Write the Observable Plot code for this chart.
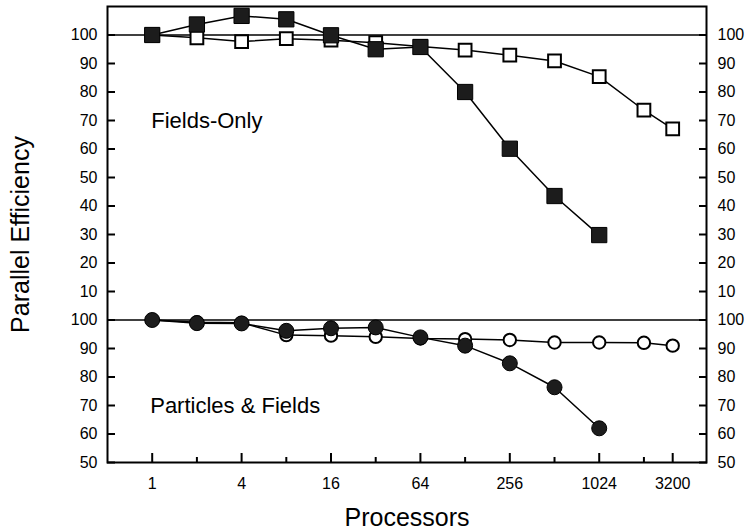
<!DOCTYPE html>
<html>
<head>
<meta charset="utf-8">
<script src="https://cdn.jsdelivr.net/npm/d3@7"></script>
<script src="https://cdn.jsdelivr.net/npm/@observablehq/plot@0.6"></script>
<style>
  body { margin: 0; background: #fff; }
</style>
</head>
<body>
<div id="chart"></div>
<script>
// ---- data ----
const procs = [1, 2, 4, 8, 16, 32, 64, 128, 256, 512, 1024, 2048, 3200];

// Fields-Only panel
const fieldsFilled = [100, 103.7, 106.7, 105.5, 99.9, 95.0, 95.8, 80.0, 60.1, 43.5, 29.8];
const fieldsOpen   = [100, 99.0, 97.7, 98.7, 98.2, 97.3, 96.0, 94.7, 92.9, 90.9, 85.4, 73.6, 67.1];

// Particles & Fields panel
const partFilled = [100, 98.9, 98.8, 96.2, 97.1, 97.4, 93.9, 91.0, 84.8, 76.4, 62.0];
const partOpen   = [100, 99.2, 99.0, 94.7, 94.5, 94.1, 93.5, 93.3, 93.0, 92.1, 92.1, 92.0, 91.0];

const xMajorTicks = [1, 4, 16, 64, 256, 1024, 3200];
const xMinorTicks = [2, 8, 32, 128, 512, 2048];
const topTickValues = [10, 20, 30, 40, 50, 60, 70, 80, 90, 100];
const bottomTickValues = [50, 60, 70, 80, 90, 100];
const panelLabels = ["Fields-Only", "Particles & Fields"];
const xLabel = "Processors";
const yLabel = "Parallel Efficiency";

// ---- panel mapping on a single shared y scale ----
const toTop = v => v + 50;     // top panel: 0..110  -> 50..160
const toBottom = v => v - 50;  // bottom panel: 50..100 -> 0..50
const tickLabel = t => String(t > 50 ? t - 50 : t + 50);

const rows = (vals, map) => vals.map((v, i) => ({x: procs[i], y: map(v)}));
const fF = rows(fieldsFilled, toTop);
const fO = rows(fieldsOpen, toTop);
const pF = rows(partFilled, toBottom);
const pO = rows(partOpen, toBottom);

const yTicks = [...bottomTickValues.map(toBottom), ...topTickValues.map(toTop)];

const FILL = "#1c1c1c";

const chart = Plot.plot({
  width: 746,
  height: 531,
  marginLeft: 107,
  marginRight: 40,
  marginTop: 6,
  marginBottom: 69,
  style: {
    fontFamily: "'Liberation Sans', Arial, Helvetica, sans-serif",
    fontSize: "16px",
    background: "white",
    color: "black"
  },
  x: {type: "log", base: 2, domain: [0.5, Math.pow(2, 12.4)]},
  y: {domain: [0, 160]},
  marks: [
    // reference lines at 100% for each panel
    Plot.ruleY([toTop(100), toBottom(100)], {stroke: "black", strokeWidth: 1.5}),

    // y axes: inward ticks + labels, both sides
    Plot.axisY(yTicks, {anchor: "left", tickSize: -8, tickFormat: () => "", strokeWidth: 2, label: null}),
    Plot.axisY(yTicks, {anchor: "left", tickSize: 0, tickPadding: 10, tickFormat: tickLabel, fontSize: 16, label: null}),
    Plot.axisY(yTicks, {anchor: "right", tickSize: -8, tickFormat: () => "", strokeWidth: 2, label: null}),
    Plot.axisY(yTicks, {anchor: "right", tickSize: 0, tickPadding: 11, tickFormat: tickLabel, fontSize: 16, label: null}),

    // x axis: inward major/minor ticks + labels
    Plot.axisX(xMajorTicks, {anchor: "bottom", tickSize: -9, tickFormat: () => "", strokeWidth: 2, label: null}),
    Plot.axisX(xMinorTicks, {anchor: "bottom", tickSize: -5, tickFormat: () => "", strokeWidth: 2, label: null}),
    Plot.axisX(xMajorTicks, {anchor: "bottom", tickSize: 0, tickPadding: 15, tickFormat: d => String(d), fontSize: 16, label: null}),

    // series lines
    Plot.line(fO, {x: "x", y: "y", stroke: "black", strokeWidth: 1.5}),
    Plot.line(fF, {x: "x", y: "y", stroke: "black", strokeWidth: 1.5}),
    Plot.line(pO, {x: "x", y: "y", stroke: "black", strokeWidth: 1.5}),
    Plot.line(pF, {x: "x", y: "y", stroke: "black", strokeWidth: 1.5}),

    // markers
    Plot.dot(fO, {x: "x", y: "y", symbol: "square", r: 7.2, fill: "white", stroke: "black", strokeWidth: 2}),
    Plot.dot(fF, {x: "x", y: "y", symbol: "square", r: 8.6, fill: FILL, stroke: "black", strokeWidth: 1}),
    Plot.dot(pO, {x: "x", y: "y", symbol: "circle", r: 6.2, fill: "white", stroke: "black", strokeWidth: 2}),
    Plot.dot(pF, {x: "x", y: "y", symbol: "circle", r: 7.5, fill: FILL, stroke: "black", strokeWidth: 1}),

    // panel labels
    Plot.text([panelLabels[0]], {x: 1, y: toTop(70), text: d => d, textAnchor: "start", dx: -1, fontSize: 22}),
    Plot.text([panelLabels[1]], {x: 1, y: toBottom(70), text: d => d, textAnchor: "start", dx: -2, fontSize: 22}),

    // axis titles
    Plot.text([xLabel], {frameAnchor: "bottom", text: d => d, textAnchor: "middle", lineAnchor: "middle", dy: 55, fontSize: 25}),
    Plot.text([yLabel], {frameAnchor: "left", text: d => d, rotate: -90, textAnchor: "middle", lineAnchor: "middle", dx: -87, fontSize: 25}),

    Plot.frame({stroke: "black", strokeWidth: 2})
  ]
});

document.getElementById("chart").appendChild(chart);
</script>
</body>
</html>
